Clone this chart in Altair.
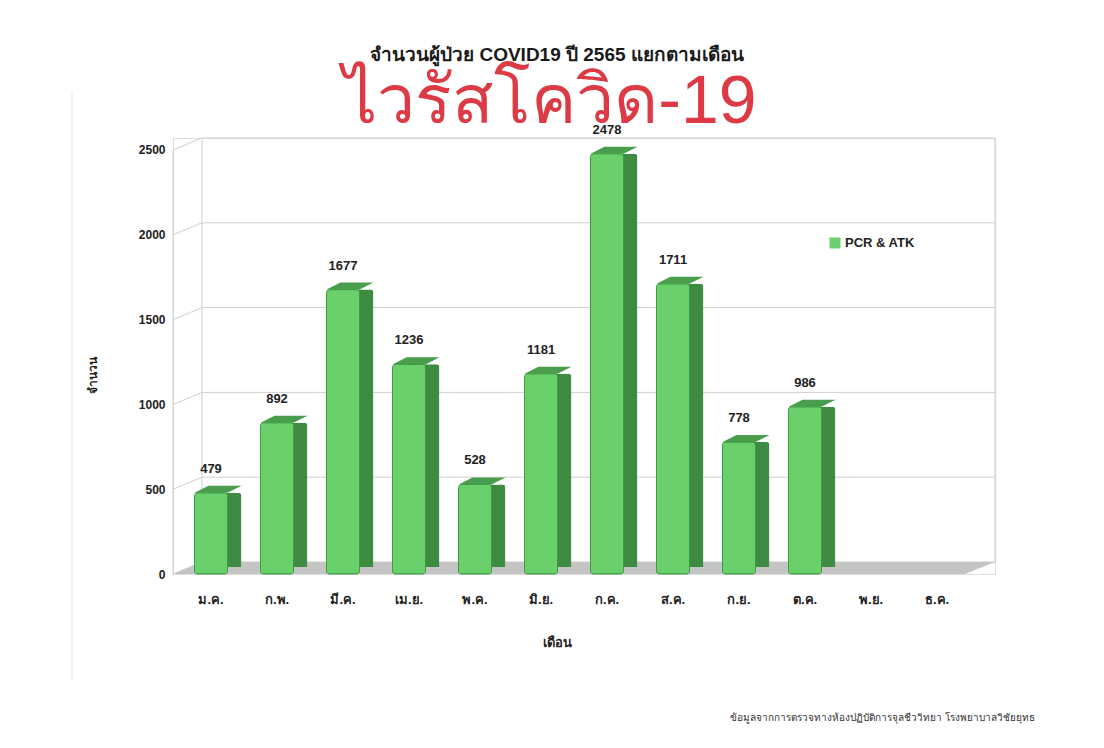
import altair as alt
import pandas as pd

months = ["ม.ค.", "ก.พ.", "มี.ค.", "เม.ย.", "พ.ค.", "มิ.ย.", "ก.ค.", "ส.ค.", "ก.ย.", "ต.ค.", "พ.ย.", "ธ.ค."]
values = [479, 892, 1677, 1236, 528, 1181, 2478, 1711, 778, 986, None, None]
y_ticks = [0, 500, 1000, 1500, 2000, 2500]
series_name = "PCR & ATK"
title_text = "จำนวนผู้ป่วย COVID19 ปี 2565 แยกตามเดือน"
overlay_text = "ไวรัสโควิด-19"
footer_text = "ข้อมูลจากการตรวจทางห้องปฏิบัติการจุลชีววิทยา โรงพยาบาลวิชัยยุทธ"
x_title = "เดือน"
y_title = "จำนวน"

W, H = 822, 436
FONT = "Liberation Sans"

df = pd.DataFrame({"month": months, "value": values})
bars_df = df.dropna()
grid_df = pd.DataFrame({"value": y_ticks})
span_df = pd.DataFrame({"value": [y_ticks[0]], "value2": [y_ticks[-1]]})
one = pd.DataFrame({"k": [0]})

yscale = alt.Scale(domain=[0, 2570.75], nice=False, zero=True)
xscale = alt.Scale(domain=months, paddingInner=0.5, paddingOuter=0.25, range=[5, 797])

X = alt.X("month:N", scale=xscale, sort=months)
Y = alt.Y("value:Q", scale=yscale)

# back wall gridlines
wall = alt.Chart(grid_df).mark_rule(color="#cfcfcf", strokeWidth=1, yOffset=-12).encode(
    y=Y, x=alt.value(29), x2=alt.value(W))
slants = alt.Chart(grid_df).mark_rule(color="#cfcfcf", strokeWidth=1, y2Offset=-12).encode(
    y=Y, y2="value:Q", x=alt.value(0), x2=alt.value(29))
wall_left = alt.Chart(span_df).mark_rule(
    color="#cfcfcf", strokeWidth=1, yOffset=-12, y2Offset=-12).encode(
    y=Y, y2="value2:Q", x=alt.value(29))
wall_right = alt.Chart(span_df).mark_rule(
    color="#cfcfcf", strokeWidth=1, yOffset=-12, y2Offset=-12).encode(
    y=Y, y2="value2:Q", x=alt.value(W))
front_line = alt.Chart(span_df).mark_rule(color="#cfcfcf", strokeWidth=1).encode(
    y=Y, y2="value2:Q", x=alt.value(0))

# floor parallelogram (custom symbol)
floor_path = "M -1 0.0146 L 0.927 0.0146 L 1 -0.0146 L -0.929 -0.0146 Z"
floor = alt.Chart(one).mark_point(shape=floor_path, filled=True, size=W * W,
                                  color="#c4c4c4", opacity=1, strokeWidth=0).encode(
    x=alt.value(W / 2), y=alt.value(430))

# axes (labels only)
axes = alt.Chart(bars_df).mark_bar(opacity=0).encode(
    x=alt.X("month:N", scale=xscale, sort=months,
            axis=alt.Axis(title=x_title, labelAngle=0, ticks=False, domain=False, grid=False,
                          labelPadding=19, labelFontSize=13, labelFontWeight="bold",
                          labelColor="#222", labelFont=FONT, titleFont=FONT,
                          titleFontSize=13, titleFontWeight="bold", titleColor="#222",
                          titleX=384, titleY=68, titleBaseline="middle")),
    y=alt.Y("value:Q", scale=yscale,
            axis=alt.Axis(title=y_title, values=y_ticks, format="d", grid=False, ticks=False,
                          domain=False, labelPadding=8, labelFontSize=12, labelFontWeight="bold",
                          labelColor="#222", labelFont=FONT, titleFont=FONT,
                          titleFontSize=12, titleFontWeight="bold", titleColor="#222",
                          titleX=-81, titleY=237, titleBaseline="middle", titleAlign="center")),
)

side = alt.Chart(bars_df).mark_bar(color="#3d8c41", xOffset=14, yOffset=-7, y2Offset=-7,
                                   cornerRadius=3).encode(x=X, y=Y)
top_path = "M -1 0.149 L 0.404 0.149 L 1 -0.149 L -0.404 -0.149 Z"
top = alt.Chart(bars_df).mark_point(shape=top_path, filled=True, size=47 * 47, color="#4a9d4c",
                                    opacity=1, strokeWidth=0, xOffset=7, yOffset=-3.5).encode(x=X, y=Y)
front = alt.Chart(bars_df).mark_bar(color="#69d06b", stroke="#3f9b42", strokeWidth=1,
                                    cornerRadius=3).encode(x=X, y=Y)
labels = alt.Chart(bars_df).mark_text(dy=-24, fontSize=13, fontWeight="bold", color="#222",
                                      font=FONT).encode(x=X, y=Y, text=alt.Text("value:Q", format="d"))

legend_sq = alt.Chart(pd.DataFrame({"s": [series_name]})).mark_point(
    shape="square", filled=True, size=121, color="#69d06b", opacity=1).encode(
    x=alt.value(662), y=alt.value(105))
legend_tx = alt.Chart(pd.DataFrame({"s": [series_name]})).mark_text(
    align="left", baseline="middle", fontSize=13, fontWeight="bold", color="#222", font=FONT).encode(
    x=alt.value(672), y=alt.value(105), text="s:N")

title = alt.Chart(pd.DataFrame({"t": [title_text]})).mark_text(
    align="center", baseline="middle", fontSize=19, fontWeight="bold", color="#1a1a1a", font=FONT).encode(
    x=alt.value(384), y=alt.value(-83), text="t:N")
overlay = alt.Chart(pd.DataFrame({"t": [overlay_text]})).mark_text(
    align="center", baseline="middle", fontSize=68, color="#dc3a44", font=FONT).encode(
    x=alt.value(377), y=alt.value(-35), text="t:N")
footer = alt.Chart(pd.DataFrame({"t": [footer_text]})).mark_text(
    align="right", baseline="middle", fontSize=10, color="#333", font=FONT).encode(
    x=alt.value(862), y=alt.value(580), text="t:N")
left_line = alt.Chart(one).mark_rule(color="#e2e2e2").encode(
    x=alt.value(-101), y=alt.value(-48), y2=alt.value(542))

chart = alt.layer(
    axes, left_line, wall, wall_left, wall_right, floor, slants, front_line,
    side, top, front, labels, legend_sq, legend_tx, title, overlay, footer
).properties(
    width=W, height=H,
    autosize=alt.AutoSizeParams(type="none"),
    padding={"left": 165, "top": 130, "right": 101, "bottom": 166},
).configure_view(stroke=None).configure(background="white")

chart.save("out.html", embed_options={"renderer": "svg", "actions": False})
